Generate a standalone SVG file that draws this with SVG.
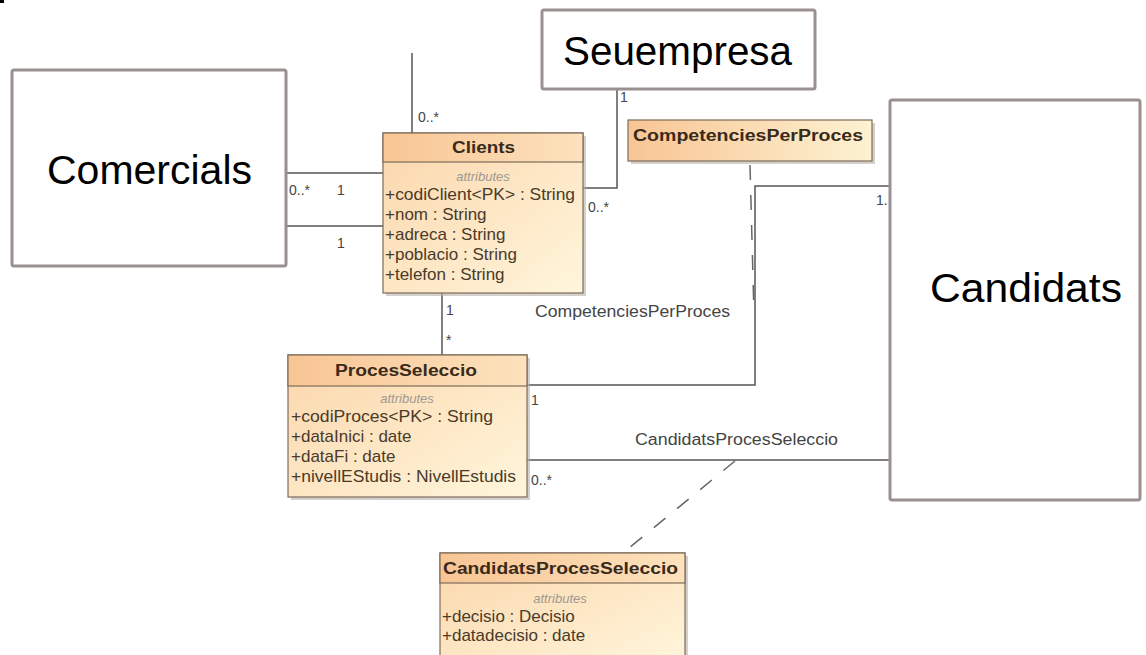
<svg xmlns="http://www.w3.org/2000/svg" width="1146" height="655" viewBox="0 0 1146 655">
<defs>
<linearGradient id="hdr" x1="0" y1="0" x2="1" y2="0">
<stop offset="0" stop-color="#f8c594"/>
<stop offset="1" stop-color="#fde2bd"/>
</linearGradient>
<linearGradient id="body" x1="0" y1="0" x2="1" y2="1">
<stop offset="0" stop-color="#fbd6ab"/>
<stop offset="1" stop-color="#fff6dc"/>
</linearGradient>
<linearGradient id="tag" x1="0" y1="0" x2="1" y2="0">
<stop offset="0" stop-color="#f8c594"/>
<stop offset="1" stop-color="#fdf2d2"/>
</linearGradient>
</defs>
<style>
.big{fill:#fff;stroke:#9b9090;stroke-width:3}
.bigt{font-family:"Liberation Sans",Arial,sans-serif;font-size:41px;fill:#000}
.cls{stroke:#7d6b5a;stroke-width:1.2}
.sh{fill:#b8b0a8;opacity:0.6}
.sep{stroke:#8a7560;stroke-width:1.2}
.ttl{font-family:"Liberation Sans",Arial,sans-serif;font-size:16px;font-weight:bold;fill:#3a2a1a}
.att{font-family:"Liberation Sans",Arial,sans-serif;font-size:13px;font-style:italic;fill:#a09890}
.row{font-family:"Liberation Sans",Arial,sans-serif;font-size:17px;fill:#4a3a2a}
.ln{fill:none;stroke:#555;stroke-width:1.5}
.dash{fill:none;stroke:#666;stroke-width:1.5;stroke-dasharray:15 15}
.lbl{font-family:"Liberation Sans",Arial,sans-serif;font-size:16px;fill:#444}
.mul{font-family:"Liberation Sans",Arial,sans-serif;font-size:14px;fill:#444}
</style>
<rect x="0" y="0" width="4" height="3" fill="#000"/>
<g id="connectors">
<line class="ln" x1="412" y1="53" x2="412" y2="133"/>
<line class="ln" x1="286" y1="173" x2="383" y2="173"/>
<line class="ln" x1="286" y1="226" x2="383" y2="226"/>
<polyline class="ln" points="617,89 617,188 583,188"/>
<line class="ln" x1="442" y1="293" x2="442" y2="355"/>
<polyline class="ln" points="527,385 755,385 755,186 890,186"/>
<line class="ln" x1="527" y1="460" x2="890" y2="460"/>
<line class="dash" x1="750" y1="165" x2="754" y2="315"/>
<line class="dash" x1="735" y1="461" x2="623" y2="553"/>
<text class="mul" x="418" y="122">0..*</text>
<text class="mul" x="289" y="195">0..*</text>
<text class="mul" x="337" y="195">1</text>
<text class="mul" x="337" y="248">1</text>
<text class="mul" x="620" y="102">1</text>
<text class="mul" x="588" y="212">0..*</text>
<text class="mul" x="446" y="315">1</text>
<text class="mul" x="446" y="345">*</text>
<text class="mul" x="531" y="405">1</text>
<text class="mul" x="531" y="485">0..*</text>
<text class="mul" x="876" y="205">1.</text>
<text class="lbl" x="535" y="317" textLength="195" lengthAdjust="spacingAndGlyphs">CompetenciesPerProces</text>
<text class="lbl" x="635" y="445" textLength="203" lengthAdjust="spacingAndGlyphs">CandidatsProcesSeleccio</text>
</g>
<g id="Comercials">
<rect class="big" x="12" y="70" width="274" height="196" rx="2"/>
<text class="bigt" x="47" y="184" textLength="205" lengthAdjust="spacingAndGlyphs">Comercials</text>
</g>
<g id="Seuempresa">
<rect class="big" x="542" y="10" width="273" height="79" rx="2"/>
<text class="bigt" x="563" y="65" textLength="229" lengthAdjust="spacingAndGlyphs">Seuempresa</text>
</g>
<g id="Candidats">
<rect class="big" x="890" y="100" width="250" height="400" rx="2"/>
<text class="bigt" x="930" y="302" textLength="192" lengthAdjust="spacingAndGlyphs">Candidats</text>
</g>
<g id="Clients">
<rect class="sh" x="386" y="136" width="200" height="160"/>
<rect x="383" y="133" width="200" height="160" fill="url(#body)" class="cls"/>
<rect x="383" y="133" width="200" height="29" fill="url(#hdr)" class="cls"/>
<text class="ttl" x="452" y="153" textLength="63" lengthAdjust="spacingAndGlyphs">Clients</text>
<text class="att" x="483" y="181" text-anchor="middle">attributes</text>
<text class="row" x="385" y="200" textLength="190" lengthAdjust="spacingAndGlyphs">+codiClient&lt;PK&gt; : String</text>
<text class="row" x="385" y="220">+nom : String</text>
<text class="row" x="385" y="240">+adreca : String</text>
<text class="row" x="385" y="260">+poblacio : String</text>
<text class="row" x="385" y="280">+telefon : String</text>
</g>
<g id="CompetenciesPerProces">
<rect class="sh" x="631" y="123" width="244" height="41"/>
<rect x="628" y="120" width="244" height="41" fill="url(#tag)" class="cls"/>
<text class="ttl" x="633" y="141" textLength="230" lengthAdjust="spacingAndGlyphs">CompetenciesPerProces</text>
</g>
<g id="ProcesSeleccio">
<rect class="sh" x="291" y="358" width="239" height="142"/>
<rect x="288" y="355" width="239" height="142" fill="url(#body)" class="cls"/>
<rect x="288" y="355" width="239" height="31" fill="url(#hdr)" class="cls"/>
<text class="ttl" x="335" y="376" textLength="142" lengthAdjust="spacingAndGlyphs">ProcesSeleccio</text>
<text class="att" x="407" y="403" text-anchor="middle">attributes</text>
<text class="row" x="291" y="422" textLength="202" lengthAdjust="spacingAndGlyphs">+codiProces&lt;PK&gt; : String</text>
<text class="row" x="291" y="442">+dataInici : date</text>
<text class="row" x="291" y="462">+dataFi : date</text>
<text class="row" x="291" y="482" textLength="225" lengthAdjust="spacingAndGlyphs">+nivellEStudis : NivellEstudis</text>
</g>
<g id="CandidatsProcesSeleccio">
<rect class="sh" x="443" y="556" width="245" height="110"/>
<rect x="440" y="553" width="245" height="110" fill="url(#body)" class="cls"/>
<rect x="440" y="553" width="245" height="30" fill="url(#hdr)" class="cls"/>
<text class="ttl" x="443" y="574" textLength="235" lengthAdjust="spacingAndGlyphs">CandidatsProcesSeleccio</text>
<text class="att" x="560" y="603" text-anchor="middle">attributes</text>
<text class="row" x="442" y="622">+decisio : Decisio</text>
<text class="row" x="442" y="641">+datadecisio : date</text>
</g>
</svg>
